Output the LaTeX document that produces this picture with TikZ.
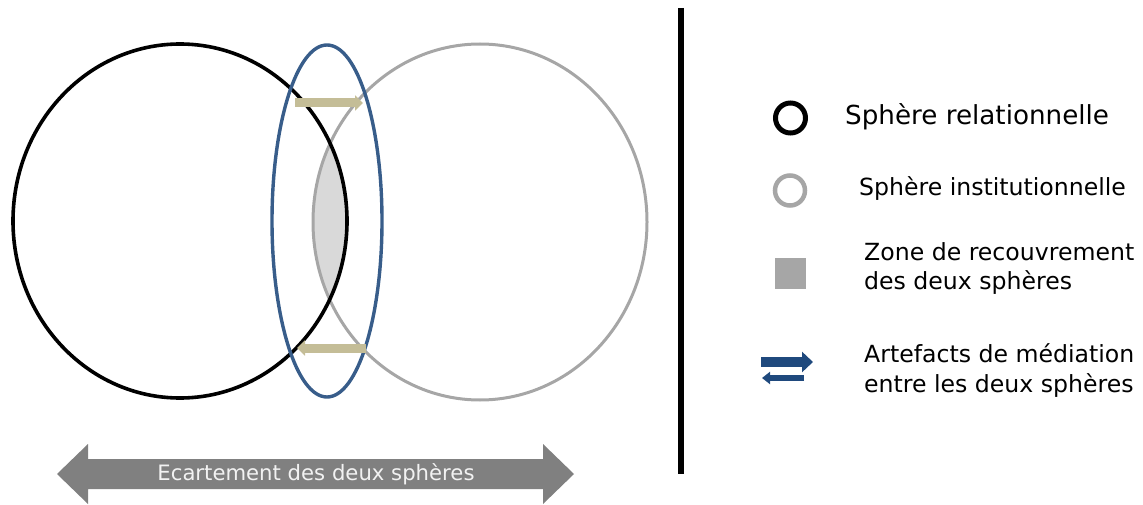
\documentclass[tikz,border=0pt]{standalone}
\usepackage{fontspec}
\setmainfont{DejaVu Sans}
\usetikzlibrary{arrows.meta}
\definecolor{sphgray}{HTML}{A6A6A6}
\definecolor{medblue}{HTML}{385D8A}
\definecolor{tanarr}{HTML}{C4BD97}
\definecolor{legblue}{HTML}{1F497D}
\definecolor{lensfill}{HTML}{D9D9D9}
\definecolor{bigarrow}{HTML}{808080}
\begin{document}
\begin{tikzpicture}[x=1pt,y=-1pt,
  legtext/.style={anchor=base west,inner sep=0pt,font=\fontsize{23.6}{28}\selectfont},
  tanarrow/.style={draw=tanarr,line width=9pt,-{Triangle[length=8pt,width=15pt]}},
  bluebig/.style={draw=legblue,line width=10pt,-{Triangle[length=11pt,width=20pt]}},
  bluesmall/.style={draw=legblue,line width=6pt,-{Triangle[length=8pt,width=12pt]}}]
\useasboundingbox (0,0) rectangle (1143,505);
% overlap zone
\begin{scope}
  \clip (180,221) ellipse [x radius=167, y radius=177];
  \fill[lensfill] (480,222) ellipse [x radius=167, y radius=178];
\end{scope}
% spheres
\draw[sphgray,line width=3pt] (480,222) ellipse [x radius=167, y radius=178];
\draw[black,line width=3.6pt] (180,221) ellipse [x radius=167, y radius=177];
\draw[medblue,line width=3.4pt] (327,221) ellipse [x radius=55, y radius=176];
% mediation arrows
\coordinate (ta1) at (295,103);
\coordinate (ta2) at (363,103);
\coordinate (tb1) at (366,348);
\coordinate (tb2) at (297,348);
\draw[tanarrow] (ta1) -- (ta2);
\draw[tanarrow] (tb1) -- (tb2);
% big gray double arrow
\fill[bigarrow] (57,474) -- (88,444) -- (88,459) -- (543,459) -- (543,444) -- (574,474)
  -- (543,504) -- (543,489) -- (88,489) -- (88,504) -- cycle;
\node[inner sep=0pt,text=white!95!black,font=\fontsize{21.2}{25}\selectfont] (ecart) at (316,474) {Ecartement des deux sphères};
% separator
\coordinate (sepT) at (681,8);
\coordinate (sepB) at (681,474);
\draw[black,line width=6pt] (sepT) -- (sepB);
% legend
\draw[black,line width=5pt] (790.5,118) circle [radius=15];
\draw[sphgray,line width=4.5pt] (790,190.5) circle [radius=15];
\fill[sphgray] (775,258) rectangle (806,289);
\coordinate (ra1) at (761,362);
\coordinate (ra2) at (813,362);
\coordinate (la1) at (804,378);
\coordinate (la2) at (762,378);
\draw[bluebig] (ra1) -- (ra2);
\draw[bluesmall] (la1) -- (la2);
\node[legtext,font=\fontsize{26.2}{30}\selectfont] (l1) at (845,125) {Sphère relationnelle};
\node[legtext] (l2) at (859,196) {Sphère institutionnelle};
\node[legtext] (l3a) at (864,260) {Zone de recouvrement};
\node[legtext] (l3b) at (864,289.5) {des deux sphères};
\node[legtext] (l4a) at (864,362) {Artefacts de médiation};
\node[legtext] (l4b) at (864,392) {entre les deux sphères};
\end{tikzpicture}
\end{document}
